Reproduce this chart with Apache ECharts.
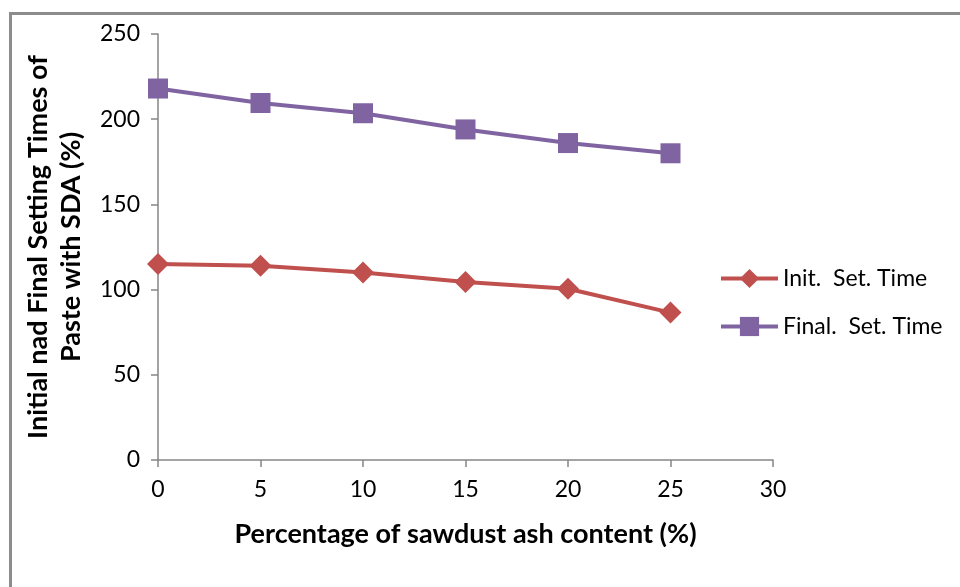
<!DOCTYPE html>
<html>
<head>
<meta charset="utf-8">
<script src="https://cdn.jsdelivr.net/npm/echarts@6/dist/echarts.min.js"></script>
<style>
html,body{margin:0;padding:0;background:#fff;}
#chart{width:960px;height:587px;}
</style>
</head>
<body>
<div id="chart"></div>
<script>
const xValues = [0, 5, 10, 15, 20, 25];
const initSetTime = [115, 114, 110, 104.5, 100.5, 86.5];
const finalSetTime = [218, 209.5, 203.5, 194, 186, 180];
const seriesNames = ['Init.  Set. Time', 'Final.  Set. Time'];
const xTitle = 'Percentage of sawdust ash content (%)';
const yTitle = 'Initial nad Final Setting Times of\nPaste with SDA (%)';

const font = 'Lato, "Open Sans", sans-serif';
const chart = echarts.init(document.getElementById('chart'), null, {renderer: 'canvas'});
const axisColor = '#868686';

chart.setOption({
  animation: false,
  backgroundColor: '#fff',
  textStyle: {fontFamily: font},
  graphic: [{
    type: 'polyline',
    shape: {points: [[10.5, 600], [10.5, 13.5], [970, 13.5]]},
    style: {stroke: '#8c8c8c', lineWidth: 3, fill: null}
  }],
  grid: {left: 158, right: 187, top: 34, bottom: 127},
  legend: {
    orient: 'vertical',
    left: 714,
    top: 262,
    itemWidth: 57,
    itemHeight: 24,
    itemGap: 25,
    lineStyle: {width: 4},
    textStyle: {fontSize: 23, color: '#000', fontFamily: font},
    data: seriesNames
  },
  xAxis: {
    type: 'value',
    min: 0, max: 30, interval: 5,
    name: xTitle,
    nameLocation: 'middle',
    nameGap: 61,
    nameTextStyle: {fontSize: 27, fontWeight: 'bold', color: '#000', fontFamily: font},
    axisLine: {lineStyle: {color: axisColor, width: 1.5}},
    axisTick: {show: true, length: 7, lineStyle: {color: axisColor, width: 1.5}},
    axisLabel: {fontSize: 23, color: '#000', margin: 18, fontFamily: font},
    splitLine: {show: false}
  },
  yAxis: {
    type: 'value',
    min: 0, max: 250, interval: 50,
    name: yTitle,
    nameLocation: 'middle',
    nameGap: 70,
    nameTextStyle: {fontSize: 27, fontWeight: 'bold', color: '#000', lineHeight: 33, fontFamily: font},
    axisLine: {show: true, lineStyle: {color: axisColor, width: 1.5}},
    axisTick: {show: true, length: 7, lineStyle: {color: axisColor, width: 1.5}},
    axisLabel: {fontSize: 23, color: '#000', margin: 18, fontFamily: font},
    splitLine: {show: false}
  },
  series: [
    {
      name: seriesNames[0],
      type: 'line',
      data: xValues.map((x, i) => [x, initSetTime[i]]),
      symbol: 'diamond',
      symbolSize: 22,
      lineStyle: {color: '#C0504D', width: 4},
      itemStyle: {color: '#C0504D'}
    },
    {
      name: seriesNames[1],
      type: 'line',
      data: xValues.map((x, i) => [x, finalSetTime[i]]),
      symbol: 'rect',
      symbolSize: 20,
      lineStyle: {color: '#8064A2', width: 4},
      itemStyle: {color: '#8064A2'}
    }
  ]
});
</script>
</body>
</html>
